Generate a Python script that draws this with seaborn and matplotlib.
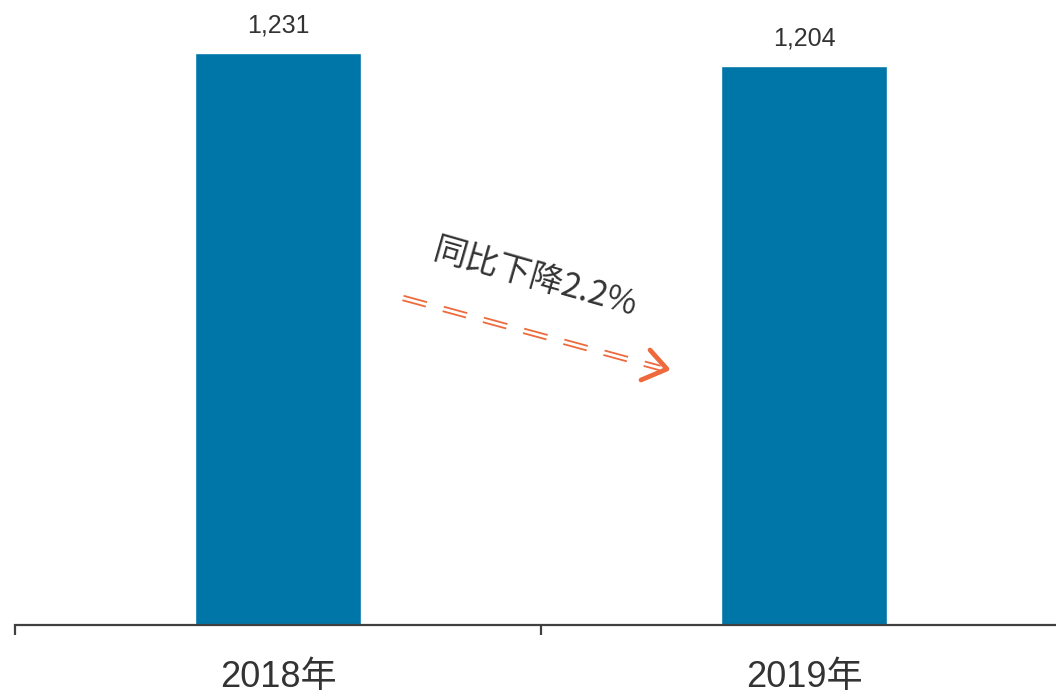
import matplotlib
matplotlib.use("Agg")
import matplotlib.pyplot as plt
import seaborn as sns
import pandas as pd
import numpy as np
from matplotlib.lines import Line2D

categories = ["2018年", "2019年"]
values = [1231, 1204]
value_labels = ["1,231", "1,204"]
annotation_text = "同比下降2.2%"

sns.set_theme(style="white")
plt.rcParams['font.family'] = ['Liberation Sans', 'Noto Sans CJK SC', 'DejaVu Sans']
plt.rcParams['lines.scale_dashes'] = False

W, H = 1056, 694
fig = plt.figure(figsize=(W / 100, H / 100), dpi=100)
ax = fig.add_axes([15 / W, (H - 625) / H, 1052 / W, 625 / H])

df = pd.DataFrame({"cat": categories, "val": values})
sns.barplot(data=df, x="cat", y="val", color="#0076A8", saturation=1, width=0.314, ax=ax)

ax.set_xlim(-0.5, 1.5)
ax.set_ylim(0, 1345)
for s in ["top", "right", "left"]:
    ax.spines[s].set_visible(False)
ax.spines["bottom"].set_color("#404040")
ax.spines["bottom"].set_linewidth(1.6)
ax.set_yticks([])
ax.set_xlabel("")
ax.set_ylabel("")
ax.set_xticks([-0.5, 0.5, 1.5], minor=True)
ax.tick_params(axis="x", which="minor", direction="out", length=7, width=1.6, color="#404040", bottom=True)
ax.tick_params(axis="x", which="major", length=0, pad=25, labelsize=26, labelcolor="#333333")

for i, (v, lab) in enumerate(zip(values, value_labels)):
    ax.annotate(lab, (i, v), xytext=(0, 11), textcoords="offset points",
                ha="center", va="bottom", fontsize=18, color="#333333")

def px(x, y):
    return x / W, 1 - y / H

tx, ty = px(535, 278)
fig.text(tx, ty, annotation_text, rotation=-16, rotation_mode="anchor",
         ha="center", va="center", fontsize=24, color="#333333",
         family=['Noto Sans CJK SC', 'Liberation Sans'])

x0, y0 = 403, 298
x1, y1 = 660, 368
d = np.array([x1 - x0, y1 - y0], dtype=float)
d /= np.linalg.norm(d)
n = np.array([-d[1], d[0]])
orange = "#EE6A3C"
for off in (-2.3, 2.3):
    xs = [x0 + n[0] * off, x1 + n[0] * off]
    ys = [y0 + n[1] * off, y1 + n[1] * off]
    p = [px(a, b) for a, b in zip(xs, ys)]
    fig.add_artist(Line2D([p[0][0], p[1][0]], [p[0][1], p[1][1]],
                          transform=fig.transFigure, color=orange, lw=1.3,
                          dashes=(17.5, 12.5)))
tip = (667, 369)
a1 = (650, 350)
a2 = (641, 380)
pts = [px(*a1), px(*tip), px(*a2)]
fig.add_artist(Line2D([p[0] for p in pts], [p[1] for p in pts],
                      transform=fig.transFigure, color=orange, lw=3.4,
                      solid_capstyle="round", solid_joinstyle="round"))

fig.savefig("out.png", dpi=100)
